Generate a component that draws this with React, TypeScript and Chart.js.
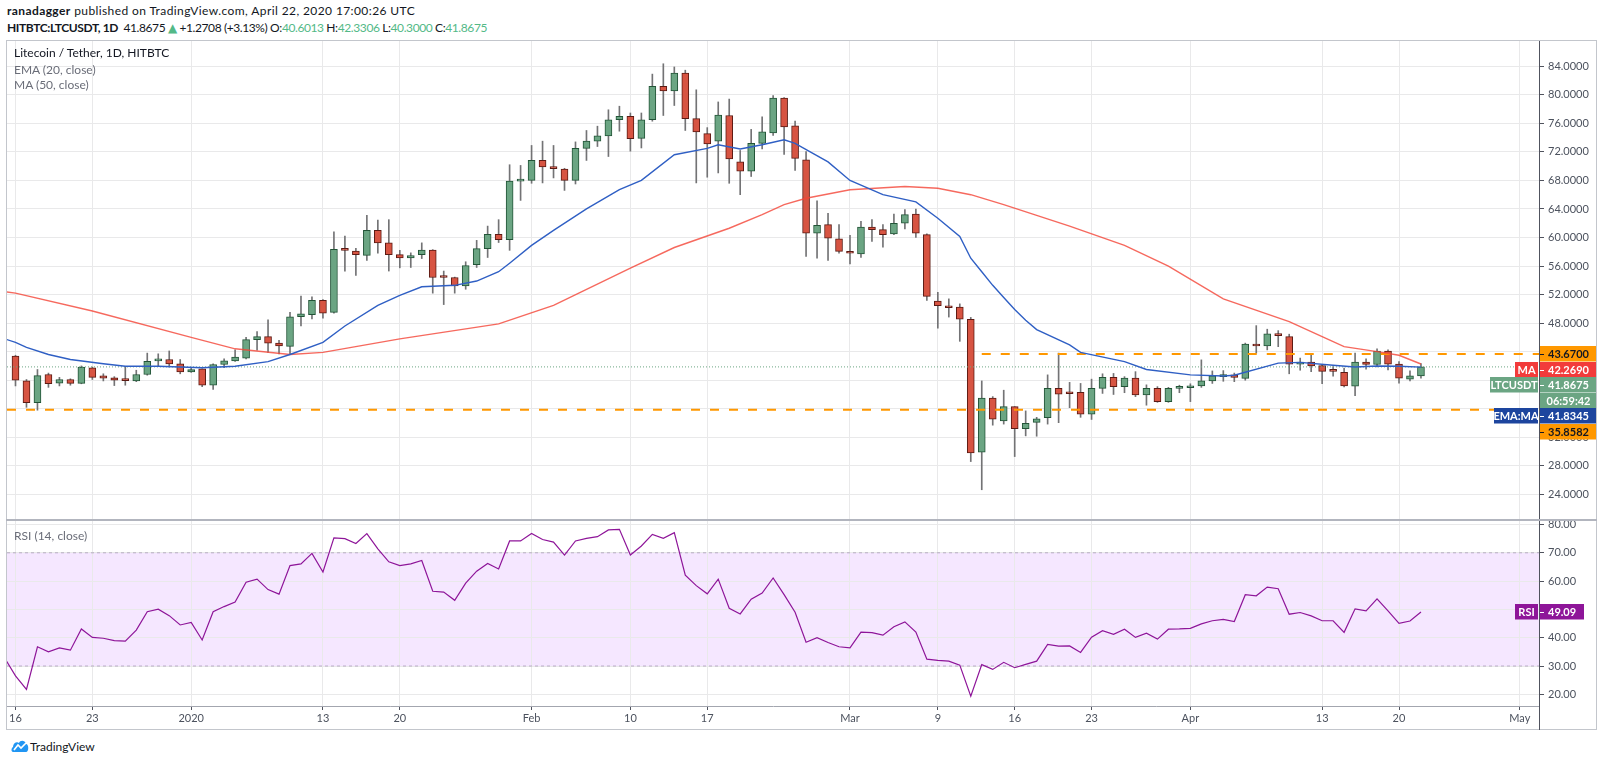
import React, { useEffect, useRef } from "react";
import { Chart, registerables } from "chart.js";

Chart.register(...registerables);

const FONT = "Lato, 'DejaVu Sans', sans-serif";

// Daily candles: day 0 = 16 Dec 2019 ... day 128 = 22 Apr 2020
const opens = [
  43.4, 39.9, 36.85, 40.8, 39.6, 40.1, 39.55, 41.75, 40.6, 40.35, 40.1, 39.9, 40.8, 42.7, 42.9, 42.3,
  41.15, 41.6, 39.3, 42.2, 42.7, 43.1, 45.7, 46.1, 45.2, 44.75, 48.9, 49.2, 51.2, 49.5, 58.3, 58.1,
  57.5, 61.0, 59.25, 57.6, 57.15, 57.6, 58.25, 54.5, 54.4, 53.2, 56.2, 58.45, 60.45, 59.7, 67.9,
  68.0, 70.8, 69.9, 69.6, 68.0, 72.5, 73.5, 74.25, 76.5, 77.0, 73.9, 76.5, 81.2, 80.55, 83.05, 76.65,
  74.55, 73.5, 77.1, 70.6, 69.3, 73.2, 74.65, 79.55, 75.65, 70.9, 60.6, 61.8, 59.8,
  58.05, 57.7, 61.45, 61.1, 60.5, 62.0, 63.3, 60.4, 51.1, 50.3, 50.25, 48.55, 29.9, 37.5, 34.3, 36.3,
  33.2, 34.1, 34.75, 38.85, 38.2, 38.3, 35.25, 38.85, 40.4, 39.1, 40.3, 37.95, 38.85, 37.0, 38.85,
  38.95, 39.2, 39.9, 40.5, 40.75, 40.25, 45.05, 44.8, 46.5, 46.1, 42.25, 42.55, 42.05, 41.35, 41.1,
  39.15, 42.55, 42.2, 44.1, 42.25, 40.15, 40.6013,
];
const highs = [
  43.5, 40.1, 41.5, 41.0, 40.4, 40.2, 42.0, 41.85, 40.9, 40.5, 41.95, 41.4, 43.8, 43.7, 44.1, 42.9,
  41.8, 41.6, 42.3, 43.0, 44.25, 46.0, 46.8, 48.45, 45.6, 49.5, 51.8, 51.7, 51.3, 60.8, 60.2, 58.5,
  63.1, 62.45, 62.5, 58.2, 57.85, 59.25, 58.3, 55.3, 54.45, 56.6, 59.6, 61.6, 62.5, 70.2, 70.1,
  72.9, 73.5, 72.9, 69.7, 73.4, 75.0, 75.6, 77.9, 78.4, 77.45, 77.45, 82.9, 84.35, 83.9, 83.45, 80.7,
  75.4, 79.0, 79.4, 72.2, 75.15, 76.9, 79.9, 79.6, 76.3, 72.05, 65.15, 63.4, 61.8,
  60.3, 62.25, 62.5, 61.8, 63.3, 63.9, 64.0, 60.5, 52.3, 51.4, 50.7, 48.8, 39.9, 37.7, 38.6, 36.3,
  35.7, 34.8, 40.75, 43.8, 39.7, 39.55, 40.15, 40.9, 40.95, 40.5, 41.2, 39.35, 39.1, 39.0, 39.3,
  39.5, 42.85, 41.3, 41.35, 41.0, 45.2, 47.65, 47.15, 46.95, 46.45, 43.1, 43.55, 42.15, 41.9, 41.7,
  43.8, 43.0, 44.4, 44.25, 42.6, 41.3, 42.3306,
];
const lows = [
  39.2, 36.2, 35.8, 39.0, 39.2, 39.3, 39.5, 40.1, 39.9, 39.25, 39.3, 39.8, 40.7, 41.95, 41.85, 40.9,
  41.1, 39.1, 38.7, 41.75, 42.65, 43.0, 44.2, 43.9, 43.7, 43.6, 47.6, 48.6, 48.7, 49.4, 55.3, 54.7,
  56.8, 57.8, 55.3, 55.75, 55.8, 57.05, 52.2, 50.6, 52.2, 52.75, 55.8, 57.2, 59.3, 58.2, 65.2,
  67.6, 67.65, 68.35, 66.6, 67.5, 70.8, 72.75, 71.35, 74.9, 72.1, 72.55, 76.3, 77.1, 78.5, 75.0, 67.65,
  68.45, 69.05, 67.6, 66.0, 68.55, 72.4, 74.3, 71.65, 69.4, 57.35, 57.1, 56.8, 57.8,
  56.3, 57.2, 59.45, 58.65, 60.4, 61.2, 60.0, 51.2, 47.3, 48.85, 45.45, 28.6, 24.65, 33.7, 33.85, 29.3,
  32.2, 32.15, 33.85, 34.05, 36.15, 34.8, 34.5, 38.15, 38.0, 38.25, 37.7, 36.5, 36.9, 36.9, 38.25,
  37.0, 39.0, 39.55, 39.85, 39.8, 40.0, 43.8, 44.25, 44.7, 40.9, 41.4, 41.2, 39.5, 40.55, 39.05,
  37.85, 41.55, 41.85, 41.45, 39.6, 39.9, 40.3,
];
const closes = [
  40.0, 36.85, 40.65, 39.5, 40.1, 39.55, 41.85, 40.4, 40.3, 40.0, 39.95, 40.8, 42.65, 42.9, 42.3, 41.15,
  41.5, 39.3, 42.2, 42.7, 43.25, 45.7, 46.1, 45.2, 44.8, 48.9, 49.3, 51.2, 49.4, 58.35, 58.2, 57.6,
  61.0, 59.25, 57.6, 57.15, 57.45, 58.25, 54.4, 54.4, 53.2, 56.05, 58.45, 60.45, 59.7, 67.9, 68.0,
  70.8, 69.9, 69.65, 68.0, 72.5, 73.5, 74.25, 76.5, 77.0, 73.85, 76.5, 81.2, 80.55, 83.05, 76.65, 74.8,
  73.1, 77.15, 71.0, 69.3, 73.2, 74.8, 79.55, 75.5, 71.1, 60.6, 61.7, 59.9, 58.05,
  57.8, 61.45, 61.1, 60.4, 62.0, 63.2, 60.6, 51.75, 50.45, 50.15, 48.55, 29.8, 37.5, 34.55, 36.3, 33.2,
  33.95, 34.6, 38.85, 38.05, 38.1, 35.25, 38.85, 40.4, 39.1, 40.3, 37.95, 38.85, 37.0, 38.85, 38.95,
  39.1, 39.9, 40.6, 40.75, 40.4, 45.05, 44.8, 46.5, 46.25, 42.25, 42.55, 42.0, 41.25, 41.25, 39.2,
  42.55, 42.2, 44.1, 42.25, 40.3, 40.6, 41.8675,
];
const days = opens.map((_, i) => i);

// EMA (20, close) (day, value)
const emaDays = [-1, 0, 1, 3, 5, 8, 10, 13, 17, 20, 23, 25, 28, 30, 33, 35, 37, 40, 42, 44, 45, 47, 49, 52, 55, 57, 60, 63, 64, 66, 68, 70, 71, 74, 76, 79, 82, 84, 86, 87, 88, 89, 90, 91, 92, 93, 96, 97, 101, 103, 107, 110, 111, 115, 117, 120, 122, 124, 126, 128];
const emaValues = [45.8, 45.3, 44.6, 43.6, 42.9, 42.3, 41.95, 41.95, 41.75, 41.95, 42.6, 43.6, 45.3, 47.6, 50.5, 51.9, 53.1, 53.3, 53.9, 55.2, 56.4, 58.9, 61.0, 64.0, 66.7, 68.0, 71.6, 72.5, 73.0, 72.4, 73.0, 73.7, 73.2, 70.6, 68.0, 66.0, 65.0, 62.7, 60.15, 57.1, 55.2, 53.3, 51.6, 49.9, 48.4, 47.1, 44.95, 43.9, 42.6, 41.5, 40.75, 40.6, 40.7, 42.4, 42.5, 42.1, 41.85, 42.0, 41.95, 41.83];

// MA (50, close) (day, value)
const maDays = [-1, 0, 7, 16, 20, 25, 28, 35, 44, 49, 56, 60, 65, 68, 70, 72, 76, 81, 84, 87, 90, 96, 101, 105, 110, 116, 119, 121, 124, 126, 128];
const maValues = [52.4, 52.2, 49.7, 46.0, 44.4, 43.6, 43.9, 45.8, 47.9, 50.5, 55.7, 58.6, 61.3, 63.2, 64.6, 65.5, 66.7, 67.15, 66.9, 66.0, 64.6, 61.6, 58.9, 56.0, 51.4, 48.2, 46.1, 44.7, 44.0, 43.5, 42.27];

// RSI (14, close) from day -1 to day 128
const rsiFirstDay = -1;
const rsiValues = [
  32.9, 26.5, 21.7, 36.8, 35.0, 36.4, 35.6, 43.1, 40.1, 39.8, 39.0, 38.8, 42.7, 49.2, 50.1, 47.8, 44.5,
  45.4, 39.2, 49.2, 51.0, 52.6, 59.6, 60.7, 57.0, 55.4, 65.5, 66.1, 69.8, 63.2, 75.3, 75.0, 73.3, 76.8,
  71.4, 66.8, 65.5, 66.1, 67.3, 56.4, 56.1, 53.2, 59.3, 63.5, 66.2, 64.3, 74.2, 74.2, 76.8, 74.7, 73.8,
  69.2, 74.2, 75.1, 75.7, 78.1, 78.3, 69.2, 72.4, 76.5, 75.1, 77.1, 62.1, 58.4, 55.5, 60.7, 50.4, 48.4,
  53.6, 55.8, 61.1, 55.2, 49.0, 38.4, 40.0, 38.3, 36.8, 36.4, 42.0, 41.8, 40.9, 43.9, 45.6, 42.0, 32.4,
  32.0, 31.7, 30.3, 19.3, 30.5, 28.8, 31.3, 29.4, 30.6, 31.7, 37.6, 37.0, 37.1, 34.8, 40.2, 42.5, 41.2,
  43.0, 40.1, 41.6, 39.5, 43.0, 43.1, 43.3, 44.9, 46.0, 46.5, 45.7, 55.2, 54.8, 57.9, 57.3, 48.3, 48.9,
  47.7, 46.0, 46.0, 41.9, 50.2, 49.5, 53.7, 49.5, 45.1, 45.9, 49.09,
];

const tickDays = [0, 7, 16, 28, 35, 47, 56, 63, 76, 84, 91, 98, 107, 119, 126, 137];
const tickLabels = ["16", "23", "2020", "13", "20", "Feb", "10", "17", "Mar", "9", "16", "23", "Apr", "13", "20", "May"];
const priceTicks = [24, 28, 32, 36, 40, 44, 48, 52, 56, 60, 64, 68, 72, 76, 80, 84];
const rsiTicks = [20, 30, 40, 50, 60, 70, 80];

const resistance = 43.67;
const resistanceFromDay = 88;
const support = 35.8582;
const lastPrice = 41.8675;
const maLast = 42.269;
const emaLast = 41.8345;
const rsiLast = 49.09;
const countdown = "06:59:42";

const X_MIN = -0.774;
const X_MAX = 138.75;
const AXIS_W = 61;

const UP = "#6ba583";
const UP_BORDER = "#225437";
const DOWN = "#d75442";
const DOWN_BORDER = "#5b1a13";
const WICK = "#737375";
const GRID = "#e9e9ea";
const TEXT = "#4c525e";
const ORANGE = "#ff9800";
const RSI_COLOR = "#8e1599";

function drawBox(ctx: any, x: number, y: number, w: number, h: number, bg: string, fg: string, text: string, centered: boolean) {
  ctx.save();
  ctx.fillStyle = bg;
  ctx.fillRect(x, Math.round(y - h / 2), w, h);
  ctx.fillStyle = fg;
  ctx.font = "bold 11px " + FONT;
  ctx.textBaseline = "middle";
  if (centered) {
    ctx.textAlign = "center";
    ctx.fillText(text, x + w / 2, y + 0.5);
  } else {
    ctx.textAlign = "left";
    ctx.fillText(text, x + 8, y + 0.5);
    ctx.strokeStyle = fg;
    ctx.lineWidth = 1;
    ctx.beginPath();
    ctx.moveTo(x, Math.round(y) + 0.5);
    ctx.lineTo(x + 4, Math.round(y) + 0.5);
    ctx.stroke();
  }
  ctx.restore();
}

const priceLabelsPlugin = {
  id: "priceLabels",
  afterDraw(chart: any) {
    const ctx = chart.ctx;
    const ys = chart.scales.y;
    const ax = chart.chartArea.right;
    const h = 15.5;
    const rw = chart.width - 3 - (ax + 1);
    const items: any[] = [
      { v: resistance, bg: ORANGE, fg: "#131722", text: resistance.toFixed(4) },
      { v: maLast, bg: "#f23b3b", fg: "#ffffff", text: maLast.toFixed(4), tag: "MA", tagW: 24 },
      { v: lastPrice, bg: UP, fg: "#ffffff", text: lastPrice.toFixed(4), tag: "LTCUSDT", tagW: 49, extra: countdown },
      { v: emaLast, bg: "#1d459e", fg: "#ffffff", text: emaLast.toFixed(4), tag: "EMA:MA", tagW: 45 },
      { v: support, bg: ORANGE, fg: "#131722", text: support.toFixed(4) },
    ];
    let prev = -1e9;
    for (const it of items) {
      const cy = Math.max(ys.getPixelForValue(it.v), prev + h);
      drawBox(ctx, ax + 1, cy, rw, h, it.bg, it.fg, it.text, false);
      if (it.tag) drawBox(ctx, ax - it.tagW, cy, it.tagW - 1, h, it.bg, it.fg, it.tag, true);
      prev = cy;
      if (it.extra) {
        const cy2 = prev + h;
        drawBox(ctx, ax + 1, cy2, rw, h, it.bg, it.fg, it.extra, true);
        prev = cy2;
      }
    }
  },
};

const rsiPlugin = {
  id: "rsiBand",
  beforeDraw(chart: any) {
    const { ctx, chartArea } = chart;
    const ys = chart.scales.y;
    const top = ys.getPixelForValue(70);
    const bottom = ys.getPixelForValue(30);
    ctx.save();
    ctx.fillStyle = "rgba(153, 21, 255, 0.1)";
    ctx.fillRect(chartArea.left, top, chartArea.right - chartArea.left, bottom - top);
    ctx.restore();
  },
  afterDraw(chart: any) {
    const ctx = chart.ctx;
    const ys = chart.scales.y;
    const ax = chart.chartArea.right;
    const cy = ys.getPixelForValue(rsiLast);
    drawBox(ctx, ax + 1, cy, 44, 15.5, RSI_COLOR, "#ffffff", rsiLast.toFixed(2), false);
    drawBox(ctx, ax - 24, cy, 23, 15.5, RSI_COLOR, "#ffffff", "RSI", true);
  },
};

function hline(y: number, fromX: number) {
  return [
    { x: fromX, y },
    { x: X_MAX, y },
  ];
}

export default function App() {
  const priceRef = useRef<HTMLCanvasElement>(null);
  const rsiRef = useRef<HTMLCanvasElement>(null);

  useEffect(() => {
    Chart.defaults.font.family = FONT;
    const xTicks = (s: any) => {
      s.ticks = tickDays.map((v) => ({ value: v }));
    };
    const priceChart = new Chart(priceRef.current as HTMLCanvasElement, {
      type: "bar",
      data: {
        datasets: [
          {
            type: "line",
            data: emaDays.map((d, i) => ({ x: d, y: emaValues[i] })),
            borderColor: "#2f5fc4",
            borderWidth: 1.4,
            pointRadius: 0,
            tension: 0,
            order: 0,
          },
          {
            type: "line",
            data: maDays.map((d, i) => ({ x: d, y: maValues[i] })),
            borderColor: "rgba(244, 67, 54, 0.8)",
            borderWidth: 1.4,
            pointRadius: 0,
            tension: 0,
            order: 0,
          },
          {
            type: "line",
            data: hline(resistance, resistanceFromDay),
            borderColor: ORANGE,
            borderWidth: 2,
            borderDash: [9, 10],
            pointRadius: 0,
            order: 0,
          },
          {
            type: "line",
            data: hline(support, X_MIN),
            borderColor: ORANGE,
            borderWidth: 2,
            borderDash: [9, 10],
            pointRadius: 0,
            order: 0,
          },
          {
            type: "line",
            data: hline(lastPrice, X_MIN),
            borderColor: UP,
            borderWidth: 1,
            borderDash: [1, 2],
            pointRadius: 0,
            order: 0,
          },
          {
            type: "bar",
            data: days.map((i) => ({ x: i, y: [opens[i], closes[i]] })),
            backgroundColor: days.map((i) => (closes[i] >= opens[i] ? UP : DOWN)),
            borderColor: days.map((i) => (closes[i] >= opens[i] ? UP_BORDER : DOWN_BORDER)),
            borderWidth: 1,
            borderSkipped: false,
            barThickness: 7,
            minBarLength: 2,
            grouped: false,
            order: 1,
          },
          {
            type: "bar",
            data: days.map((i) => ({ x: i, y: [lows[i], highs[i]] })),
            backgroundColor: WICK,
            barThickness: 1,
            grouped: false,
            order: 2,
          },
        ] as any,
      },
      options: {
        animation: false,
        responsive: false,
        maintainAspectRatio: false,
        events: [],
        layout: { padding: { left: 7, right: 0, top: 0, bottom: 0 } },
        plugins: { legend: { display: false }, tooltip: { enabled: false } },
        scales: {
          x: {
            type: "linear",
            min: X_MIN,
            max: X_MAX,
            offset: false,
            bounds: "data",
            grid: { color: GRID, drawTicks: false, offset: false },
            border: { display: false },
            ticks: { display: false },
            afterBuildTicks: xTicks,
            afterFit: (s: any) => {
              s.height = 0;
              s.paddingLeft = 0;
              s.paddingRight = 0;
            },
          },
          y: {
            type: "linear",
            position: "right",
            min: 20.41,
            max: 87.68,
            bounds: "data",
            grid: { color: GRID, tickColor: "#50535e", tickLength: 5 },
            border: { color: "#50535e" },
            ticks: {
              color: TEXT,
              font: { size: 11, family: FONT },
              padding: 4,
              callback: (v: any) => Number(v).toFixed(4),
            },
            afterBuildTicks: (s: any) => {
              s.ticks = priceTicks.map((v) => ({ value: v }));
            },
            afterFit: (s: any) => {
              s.width = AXIS_W;
              s.paddingTop = 0;
              s.paddingBottom = 0;
            },
          },
        },
      } as any,
      plugins: [priceLabelsPlugin],
    });

    const rsiChart = new Chart(rsiRef.current as HTMLCanvasElement, {
      type: "line",
      data: {
        datasets: [
          {
            data: rsiValues.map((v, i) => ({ x: rsiFirstDay + i, y: v })),
            borderColor: RSI_COLOR,
            borderWidth: 1.2,
            pointRadius: 0,
            tension: 0,
          },
          {
            data: hline(70, X_MIN),
            borderColor: "rgba(120, 100, 140, 0.45)",
            borderWidth: 1,
            borderDash: [3, 3],
            pointRadius: 0,
          },
          {
            data: hline(30, X_MIN),
            borderColor: "rgba(120, 100, 140, 0.45)",
            borderWidth: 1,
            borderDash: [3, 3],
            pointRadius: 0,
          },
        ] as any,
      },
      options: {
        animation: false,
        responsive: false,
        maintainAspectRatio: false,
        events: [],
        layout: { padding: { left: 7, right: 0, top: 0, bottom: 0 } },
        plugins: { legend: { display: false }, tooltip: { enabled: false } },
        scales: {
          x: {
            type: "linear",
            min: X_MIN,
            max: X_MAX,
            bounds: "data",
            grid: { color: GRID, drawTicks: true, tickLength: 4, tickColor: "#50535e" },
            border: { color: "#a3a6af" },
            ticks: {
              color: TEXT,
              font: { size: 11, family: FONT },
              padding: 2,
              autoSkip: false,
              maxRotation: 0,
              callback: (v: any) => {
                const k = tickDays.indexOf(Number(v));
                return k >= 0 ? tickLabels[k] : "";
              },
            },
            afterBuildTicks: xTicks,
            afterFit: (s: any) => {
              s.height = 24;
              s.paddingLeft = 0;
              s.paddingRight = 0;
            },
          },
          y: {
            type: "linear",
            position: "right",
            min: 15.87,
            max: 81.59,
            bounds: "data",
            grid: { color: GRID, tickColor: "#50535e", tickLength: 5 },
            border: { color: "#50535e" },
            ticks: {
              color: TEXT,
              font: { size: 11, family: FONT },
              padding: 4,
              callback: (v: any) => Number(v).toFixed(2),
            },
            afterBuildTicks: (s: any) => {
              s.ticks = rsiTicks.map((v) => ({ value: v }));
            },
            afterFit: (s: any) => {
              s.width = AXIS_W;
              s.paddingTop = 0;
              s.paddingBottom = 0;
            },
          },
        },
      } as any,
      plugins: [rsiPlugin],
    });

    return () => {
      priceChart.destroy();
      rsiChart.destroy();
    };
  }, []);

  const green = { color: "#53b987" };
  const abs = (l: number, t: number, extra: any = {}) => ({ position: "absolute" as const, left: l, top: t, ...extra });

  return (
    <div
      style={{
        position: "absolute",
        left: 0,
        top: 0,
        width: 1600,
        height: 763,
        background: "#ffffff",
        overflow: "hidden",
        fontFamily: FONT,
        color: "#131722",
      }}
    >
      <div style={abs(7, 3, { fontSize: 12, lineHeight: "16px", whiteSpace: "nowrap", letterSpacing: "0.4px" })}>
        <b>ranadagger</b> published on TradingView.com, April 22, 2020 17:00:26 UTC
      </div>
      <div style={abs(7, 19.5, { fontSize: 12, lineHeight: "16px", whiteSpace: "nowrap", letterSpacing: "-0.4px" })}>
        <b>HITBTC:LTCUSDT, 1D</b>&nbsp; 41.8675 <span style={green}>▲</span> +1.2708 (+3.13%) O:
        <span style={green}>40.6013</span> H:<span style={green}>42.3306</span> L:
        <span style={green}>40.3000</span> C:<span style={green}>41.8675</span>
      </div>

      <canvas ref={priceRef} width={1600} height={480} style={abs(0, 40, { width: 1600, height: 480 })} />
      <canvas ref={rsiRef} width={1600} height={210} style={abs(0, 520, { width: 1600, height: 210 })} />

      <div style={abs(6, 40, { width: 1591, height: 690, border: "1px solid #c3c6cc", boxSizing: "border-box" })} />
      <div style={abs(6, 519, { width: 1591, height: 2, background: "#b2b5be" })} />
      <div style={abs(1539, 706, { width: 1, height: 24, background: "#50535e" })} />

      <div style={abs(14, 45, { fontSize: 12, lineHeight: "16px", whiteSpace: "nowrap" })}>
        Litecoin / Tether, 1D, HITBTC
      </div>
      <div style={abs(14, 61.5, { fontSize: 12, lineHeight: "16px", color: "#6a6d78", whiteSpace: "nowrap" })}>
        EMA (20, close)
      </div>
      <div style={abs(14, 77, { fontSize: 12, lineHeight: "16px", color: "#6a6d78", whiteSpace: "nowrap" })}>
        MA (50, close)
      </div>
      <div style={abs(14, 528, { fontSize: 12, lineHeight: "16px", color: "#6a6d78", whiteSpace: "nowrap" })}>
        RSI (14, close)
      </div>

      <svg style={abs(11, 739)} width={18} height={14} viewBox="0 0 18 14">
        <path d="M2 13 C0 13 0 9 2 8 C2 4 6 2 8 4 C9 1 14 1 15 5 C18 5 18 13 15 13 Z" fill="#2196f3" />
        <path d="M3 11 L7 6 L10 9 L15 4" stroke="#ffffff" strokeWidth={1.6} fill="none" />
      </svg>
      <div style={abs(30, 739, { fontSize: 12, lineHeight: "16px", color: "#131722", whiteSpace: "nowrap" })}>
        TradingView
      </div>
    </div>
  );
}
